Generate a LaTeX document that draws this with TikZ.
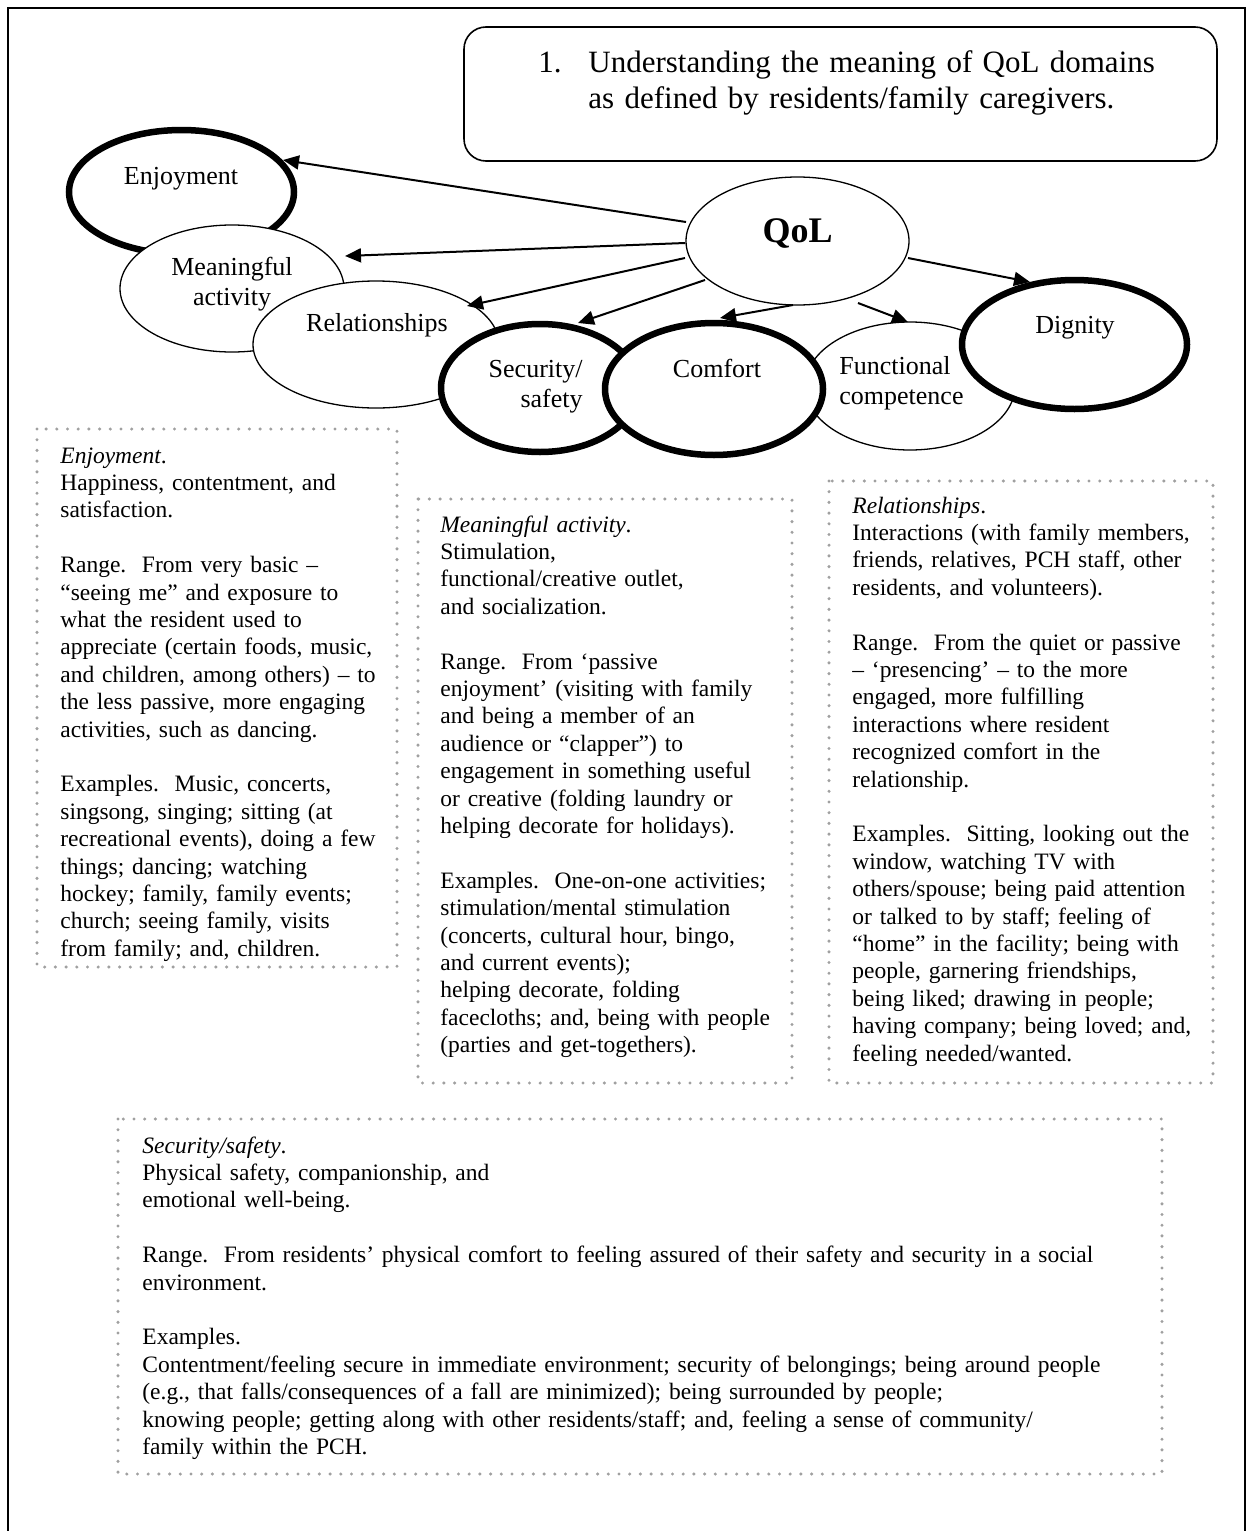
\documentclass[tikz,border=0pt]{standalone}
\usepackage{fontspec}
\setmainfont{Liberation Serif}
\usetikzlibrary{arrows.meta,shapes.geometric}
\definecolor{dotgray}{RGB}{160,160,160}
\begin{document}
\begin{tikzpicture}[x=0.5pt,y=-0.5pt,
  thinell/.style={ellipse, draw, fill=white, line width=0.65pt, inner sep=0pt, outer sep=0pt},
  thickell/.style={ellipse, draw, fill=white, line width=3.25pt, inner sep=0pt, outer sep=1.6pt},
  conn/.style={-{Triangle[length=8pt,width=7pt]}, line width=1pt},
  dotbox/.style={draw=dotgray, line width=1.7pt, line cap=round, dash pattern=on 0pt off 5.35pt},
  lbl/.style={font=\fontsize{13}{15}\selectfont, inner sep=0pt},
  body/.style={anchor=base west, inner sep=0pt, align=left, font=\fontsize{11.75}{13.7}\selectfont},
]
\useasboundingbox (0,0) rectangle (1251,1531);
% outer frame (open at the bottom)
\draw[line width=0.8pt] (8,1531) -- (8,8) -- (1245,8) -- (1245,1531);

% header box
\node[draw, rounded corners=11pt, line width=0.8pt, minimum width=376.5pt, minimum height=67pt, inner sep=0pt] (hdr) at (840.5,94) {};
\node[anchor=base west, inner sep=0pt, text width=330pt, align=left, font=\fontsize{15.5}{18}\selectfont] (ttl) at (538,72)
  {\makebox[25pt][l]{1.}Understanding the meaning of QoL domains\\\hspace*{25pt}as defined by residents/family caregivers.};

% ellipses
\node[thickell, minimum width=112.5pt, minimum height=62pt] (enj) at (181.5,192) {};
\node[thinell, minimum width=112pt, minimum height=63.5pt] (mea) at (232,288.5) {};
\node[thinell, minimum width=123pt, minimum height=63.5pt] (rel) at (376,344.5) {};
\node[thinell, minimum width=105pt, minimum height=64pt] (fun) at (910,386) {};
\node[thickell, minimum width=99pt, minimum height=64pt] (sec) at (540,388) {};
\node[thickell, minimum width=109pt, minimum height=66pt] (com) at (714,389) {};
\node[thickell, minimum width=112.5pt, minimum height=64.5pt] (dig) at (1074.5,344.5) {};
\node[thinell, minimum width=111.5pt, minimum height=64pt] (qol) at (797.5,241) {};

% labels
\node[lbl, anchor=base] (enjl) at (181,184) {Enjoyment};
\node[lbl, anchor=base, text width=80pt, align=center] (meal) at (232,275) {Meaningful\\activity};
\node[lbl, anchor=base] (rell) at (377,331) {Relationships};
\node[lbl, anchor=base east, text width=60pt, align=right] (secl) at (583,377) {Security/\\safety};
\node[lbl, anchor=base] (coml) at (717,377) {Comfort};
\node[lbl, anchor=base west, text width=80pt, align=left] (funl) at (839,374) {Functional\\competence};
\node[lbl, anchor=base] (digl) at (1075,333) {Dignity};
\node[inner sep=0pt, anchor=base, font=\fontsize{18}{20}\selectfont\bfseries] (qoll) at (797.5,242) {QoL};

% connectors
\draw[conn] ([shift={(-111.5,-19)}]qol.center) -- ([shift={(101.5,-32)}]enj.center);
\draw[conn] ([shift={(-112.5,2)}]qol.center) -- ([shift={(113,-32.5)}]mea.center);
\draw[conn] ([shift={(-112.5,17)}]qol.center) -- ([shift={(91,-38.5)}]rel.center);
\draw[conn] ([shift={(-92.5,39)}]qol.center) -- ([shift={(38,-65)}]sec.center);
\draw[conn] ([shift={(-4.5,64)}]qol.center) -- ([shift={(6,-71)}]com.center);
\draw[conn] ([shift={(60.5,62)}]qol.center) -- ([shift={(-2,-64)}]fun.center);
\draw[conn] ([shift={(110.5,17)}]qol.center) -- ([shift={(-44.5,-62.5)}]dig.center);

% dotted boxes
\draw[dotbox] (37,429) rectangle (397,967);
\draw[dotbox] (418,499) rectangle (792,1083);
\draw[dotbox] (829,481) rectangle (1213,1083);
\draw[dotbox] (118,1119) rectangle (1162,1474);

\node[body, text width=190pt] (enjtxt) at (60,463) {\textit{Enjoyment}.\\
Happiness, contentment, and\\
satisfaction.\\[13.7pt]
Range.\ \ From very basic –\\
“seeing me” and exposure to\\
what the resident used to\\
appreciate (certain foods, music,\\
and children, among others) – to\\
the less passive, more engaging\\
activities, such as dancing.\\[13.7pt]
Examples.\ \ Music, concerts,\\
singsong, singing; sitting (at\\
recreational events), doing a few\\
things; dancing; watching\\
hockey; family, family events;\\
church; seeing family, visits\\
from family; and, children.};

\node[body, text width=190pt] (meatxt) at (440,532) {\textit{Meaningful activity}.\\
Stimulation,\\
functional/creative outlet,\\
and socialization.\\[13.7pt]
Range.\ \ From ‘passive\\
enjoyment’ (visiting with family\\
and being a member of an\\
audience or “clapper”) to\\
engagement in something useful\\
or creative (folding laundry or\\
helping decorate for holidays).\\[13.7pt]
Examples.\ \ One-on-one activities;\\
stimulation/mental stimulation\\
(concerts, cultural hour, bingo,\\
and current events);\\
helping decorate, folding\\
facecloths; and, being with people\\
(parties and get-togethers).};

\node[body, text width=190pt] (reltxt) at (852,513) {\textit{Relationships}.\\
Interactions (with family members,\\
friends, relatives, PCH staff, other\\
residents, and volunteers).\\[13.7pt]
Range.\ \ From the quiet or passive\\
– ‘presencing’ – to the more\\
engaged, more fulfilling\\
interactions where resident\\
recognized comfort in the\\
relationship.\\[13.7pt]
Examples.\ \ Sitting, looking out the\\
window, watching TV with\\
others/spouse; being paid attention\\
or talked to by staff; feeling of\\
“home” in the facility; being with\\
people, garnering friendships,\\
being liked; drawing in people;\\
having company; being loved; and,\\
feeling needed/wanted.};

\node[body, text width=500pt] (sectxt) at (142,1153) {\textit{Security/safety}.\\
Physical safety, companionship, and\\
emotional well-being.\\[13.7pt]
Range.\ \ From residents’ physical comfort to feeling assured of their safety and security in a social\\
environment.\\[13.7pt]
Examples.\\
Contentment/feeling secure in immediate environment; security of belongings; being around people\\
(e.g., that falls/consequences of a fall are minimized); being surrounded by people;\\
knowing people; getting along with other residents/staff; and, feeling a sense of community/\\
family within the PCH.};
\end{tikzpicture}
\end{document}
